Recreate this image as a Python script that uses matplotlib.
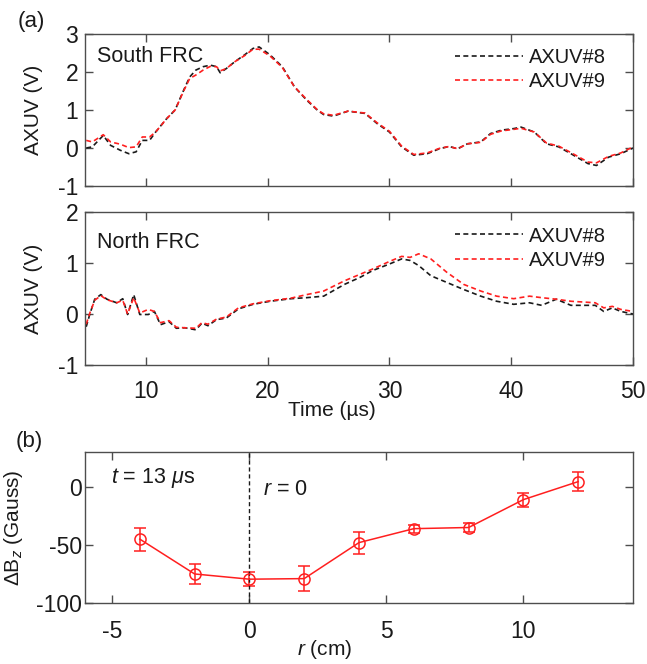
import matplotlib
matplotlib.use("Agg")
import matplotlib.pyplot as plt

plt.rcParams['font.family'] = ['Liberation Sans', 'DejaVu Sans']
plt.rcParams['mathtext.fontset'] = 'custom'
plt.rcParams['mathtext.it'] = 'Liberation Sans:italic'
plt.rcParams['mathtext.rm'] = 'Liberation Sans'
plt.rcParams['axes.unicode_minus'] = False

# ---- data: panel (a) South FRC ----
t_south = [5.1, 5.6, 6.5, 7.1, 7.9, 8.6, 9.2, 9.7, 10.3, 10.8, 11.7, 12.4, 13.1, 13.6, 14.1, 14.7,
           15.3, 15.8, 16.1, 16.6, 17.3, 18.1, 18.8, 19.3, 20.2, 21.2, 22.2, 23.2, 24.1, 24.6, 25.4,
           26.6, 28.0, 29.0, 30.0, 31.0, 32.0, 33.1, 34.1, 34.9, 35.6, 36.4, 37.5, 38.3, 39.2, 40.2,
           40.8, 41.9, 42.9, 43.9, 44.9, 46.3, 47.0, 48.0, 49.0, 50.0]
south_axuv8 = [0.0, 0.03, 0.33, 0.07, -0.06, -0.15, -0.1, 0.2, 0.2, 0.42, 0.77, 1.0, 1.52, 1.87, 2.05, 2.14,
               2.18, 2.14, 1.98, 2.09, 2.27, 2.45, 2.62, 2.66, 2.45, 2.14, 1.61, 1.26, 0.99, 0.88, 0.84,
               0.97, 0.91, 0.64, 0.42, 0.03, -0.19, -0.15, -0.02, 0.04, -0.02, 0.11, 0.16, 0.38, 0.47, 0.51,
               0.55, 0.42, 0.11, 0.03, -0.15, -0.41, -0.46, -0.24, -0.15, 0.0]
south_axuv9 = [0.2, 0.16, 0.35, 0.16, 0.1, 0.01, 0.03, 0.29, 0.29, 0.42, 0.77, 1.0, 1.5, 1.83, 1.92, 2.05,
               2.15, 2.14, 2.03, 2.09, 2.27, 2.43, 2.6, 2.6, 2.42, 2.12, 1.61, 1.28, 1.0, 0.9, 0.86,
               0.97, 0.92, 0.66, 0.44, 0.05, -0.17, -0.13, -0.01, 0.04, -0.02, 0.11, 0.15, 0.36, 0.45, 0.49,
               0.52, 0.42, 0.13, 0.05, -0.12, -0.37, -0.39, -0.22, -0.13, 0.03]

# ---- data: panel (a) North FRC ----
t_north = [5.1, 5.4, 5.8, 6.3, 6.8, 7.6, 8.1, 8.5, 9.0, 9.5, 10.2, 10.7, 11.2, 11.9, 12.5, 13.2, 14.1,
           14.6, 15.1, 15.8, 16.6, 17.6, 18.8, 20.2, 21.9, 23.2, 24.6, 26.3, 27.6, 28.6, 30.0, 31.0,
           31.7, 32.4, 33.4, 34.7, 36.1, 37.5, 38.8, 40.2, 41.5, 42.5, 43.7, 44.9, 46.9, 47.6, 48.3,
           49.0, 50.0]
north_axuv8 = [-0.25, 0.0, 0.29, 0.38, 0.29, 0.22, 0.3, -0.01, 0.38, -0.01, -0.01, 0.05, -0.21, -0.15,
               -0.28, -0.27, -0.31, -0.18, -0.23, -0.11, -0.08, 0.1, 0.19, 0.25, 0.3, 0.32, 0.35, 0.58,
               0.72, 0.85, 0.98, 1.08, 1.05, 0.95, 0.75, 0.62, 0.48, 0.35, 0.25, 0.19, 0.22, 0.17, 0.29,
               0.17, 0.17, 0.05, 0.12, 0.05, 0.0]
north_axuv9 = [-0.2, 0.02, 0.27, 0.36, 0.28, 0.22, 0.27, 0.0, 0.32, 0.02, 0.09, 0.05, -0.17, -0.13,
               -0.26, -0.27, -0.28, -0.17, -0.2, -0.1, -0.06, 0.12, 0.2, 0.26, 0.31, 0.38, 0.45, 0.65,
               0.78, 0.88, 1.03, 1.13, 1.11, 1.18, 1.08, 0.82, 0.58, 0.45, 0.35, 0.3, 0.35, 0.32, 0.29,
               0.25, 0.22, 0.12, 0.15, 0.09, 0.05]

# ---- data: panel (b) ----
r_cm = [-4, -2, 0, 2, 4, 6, 8, 10, 12]
dBz = [-45, -75, -79.5, -79, -48, -36, -35, -11, 4.5]
dBz_err = [10, 8.5, 6, 11, 9.5, 3.5, 3.7, 6, 8]

BLACK = '#1a1a1a'
RED = '#ff1f1f'
SPINE = '#4d4d4d'
TXT = '#1a1a1a'
W, H = 647, 664

fig = plt.figure(figsize=(W / 100, H / 100), dpi=100)

def ax_at(left, top, right, bottom):
    return fig.add_axes([left / W, 1 - bottom / H, (right - left) / W, (bottom - top) / H])

def style(ax, xpad, ypad):
    for s in ax.spines.values():
        s.set_color(SPINE)
        s.set_linewidth(1.0)
    ax.tick_params(direction='in', top=True, right=True, length=5.5, width=1.0,
                   color=SPINE, labelsize=16.5, labelcolor=TXT)
    ax.tick_params(axis='x', pad=xpad)
    ax.tick_params(axis='y', pad=ypad)

ax1 = ax_at(85, 34, 633, 186)
ax2 = ax_at(85, 212, 633, 365)
ax3 = ax_at(85, 452, 633, 603)

dash = (0, (3.0, 2.0))
for ax, t, y8, y9, title, yl, ty in [(ax1, t_south, south_axuv8, south_axuv9, 'South FRC', (-1, 3), 0.85),
                                      (ax2, t_north, north_axuv8, north_axuv9, 'North FRC', (-1, 2), 0.80)]:
    ax.plot(t, y8, color=BLACK, lw=1.2, linestyle=dash, label='AXUV#8')
    ax.plot(t, y9, color=RED, lw=1.2, linestyle=dash, label='AXUV#9')
    ax.set_xlim(5, 50)
    ax.set_ylim(*yl)
    ax.set_xticks([10, 20, 30, 40, 50])
    ax.set_yticks(list(range(yl[0], yl[1] + 1)))
    ax.set_ylabel('AXUV (V)', fontsize=15, color=TXT)
    ax.yaxis.set_label_coords(-0.077, 0.5)
    ax.text(0.022, ty, title, transform=ax.transAxes, fontsize=15.5, color=TXT, va='center', ha='left')
    ax.legend(loc='upper left', bbox_to_anchor=(0.675, 0.905), frameon=False, fontsize=14.5,
              borderaxespad=0, borderpad=0, handlelength=3.4, handletextpad=0.3,
              labelspacing=0.25, labelcolor=TXT)
    style(ax, 11, 5)

ax1.set_xticklabels([])
ax2.set_xlabel('Time (µs)', fontsize=15, color=TXT)
ax2.xaxis.set_label_coords(0.45, -0.235)

ax3.errorbar(r_cm, dBz, yerr=dBz_err, color=RED, lw=1.1, marker='o', markersize=8,
             markerfacecolor='none', markeredgecolor=RED, markeredgewidth=1.1,
             capsize=4.5, capthick=1.1, elinewidth=1.1)
ax3.axvline(0, color=BLACK, lw=1.0, linestyle=(0, (3, 2)))
ax3.set_xlim(-6, 14)
ax3.set_ylim(-100, 30)
ax3.set_xticks([-5, 0, 5, 10])
ax3.set_yticks([-100, -50, 0])
ax3.set_xlabel('$r$ (cm)', fontsize=15, color=TXT)
ax3.xaxis.set_label_coords(0.437, -0.235)
ax3.set_ylabel('ΔB$_z$ (Gauss)', fontsize=15, color=TXT)
ax3.yaxis.set_label_coords(-0.11, 0.5)
ax3.text(0.047, 0.83, '$t$ = 13 $\\mu$s', transform=ax3.transAxes, fontsize=15.5, color=TXT, va='center')
ax3.text(0.325, 0.75, '$r$ = 0', transform=ax3.transAxes, fontsize=15.5, color=TXT, va='center')
style(ax3, 12, 2)

fig.text(18 / W, 1 - 22 / H, '(a)', fontsize=16, color=TXT, va='center', ha='left')
fig.text(16 / W, 1 - 442 / H, '(b)', fontsize=16, color=TXT, va='center', ha='left')

fig.savefig('out.png', dpi=100, facecolor='white')
